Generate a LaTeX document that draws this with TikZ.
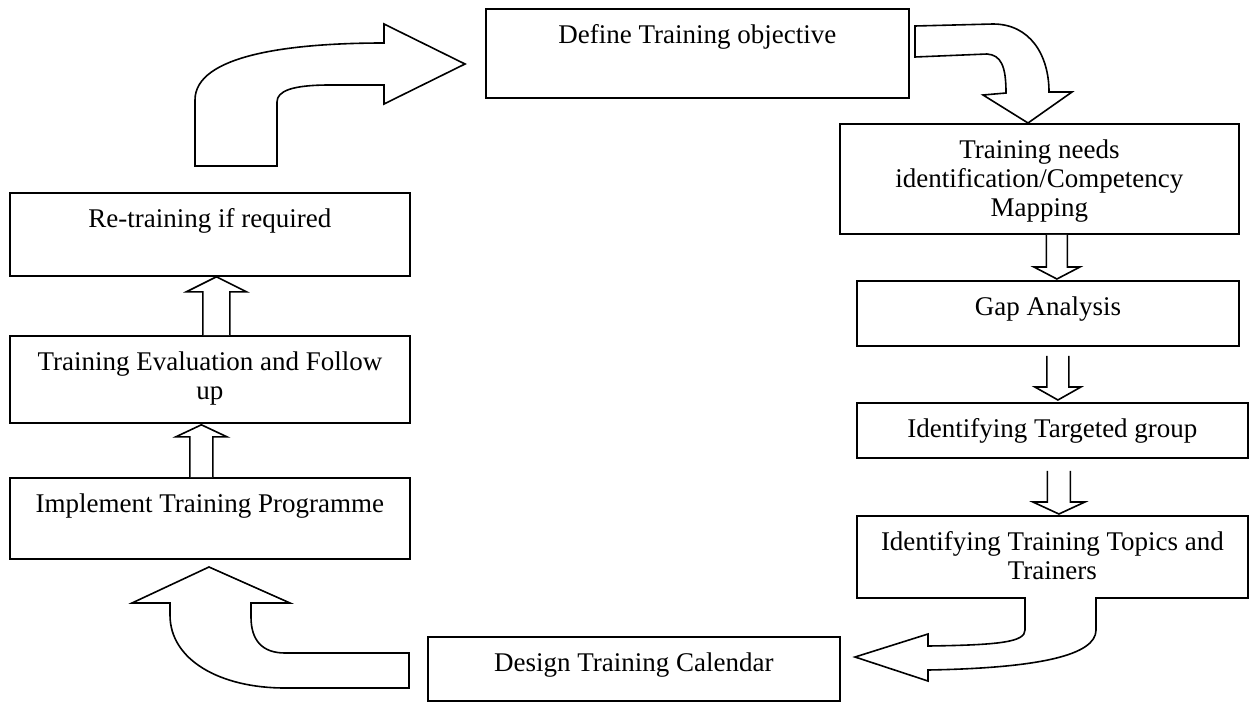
\documentclass[tikz,border=0pt]{standalone}
\usepackage{fontspec}
\setmainfont{Liberation Serif}
\usetikzlibrary{calc}
\newcommand\boxtext[3]{\parbox[t][#2][t]{#1}{\centering\rule{0pt}{35pt}#3}}
\newcommand\vblock[5]{\draw[blk] let \p1=#1, \p2=#2 in
  ({\x2-#3},{\y1}) -- ({\x2-#3},{\y2+(#5)}) -- ({\x2-#4},{\y2+(#5)}) -- ({\x2},{\y2})
  -- ({\x2+#4},{\y2+(#5)}) -- ({\x2+#3},{\y2+(#5)}) -- ({\x2+#3},{\y1});}
\begin{document}
\begin{tikzpicture}[x=1pt,y=-1pt,
  font=\fontsize{27}{28.8}\selectfont,
  box/.style={draw, line width=1.8pt, inner sep=0pt, anchor=north west},
  blk/.style={draw, line width=1.6pt, fill=white, line join=miter}]
\useasboundingbox (0,0) rectangle (1249,701);

% boxes
\node[box] (def) at (485,8) {\boxtext{423pt}{89pt}{Define Training objective}};
\node[box] (tni) at (839,123) {\boxtext{399pt}{110pt}{Training needs\\identification/Competency\\Mapping}};
\node[box] (gap) at (856,280) {\boxtext{382pt}{65pt}{Gap Analysis}};
\node[box] (tgt) at (856,402) {\boxtext{391pt}{55pt}{Identifying Targeted group}};
\node[box] (topics) at (856,515) {\boxtext{391pt}{82pt}{Identifying Training Topics and\\Trainers}};
\node[box] (cal) at (427,636) {\boxtext{412pt}{64pt}{Design Training Calendar}};
\node[box] (impl) at (9,477) {\boxtext{400pt}{81pt}{Implement Training Programme}};
\node[box] (eval) at (9,335) {\boxtext{400pt}{87pt}{Training Evaluation and Follow\\up}};
\node[box] (ret) at (9,192) {\boxtext{400pt}{83pt}{Re-training if required}};

% straight block arrows
\vblock{(tni.south)}{($(gap.north)+(9,-1)$)}{10.5}{23}{12}
\vblock{($(gap.south)+(0,9)$)}{($(tgt.north)+(5.5,-2)$)}{11}{23}{13}
\vblock{($(tgt.south)+(0,12)$)}{($(topics.north)+(6.5,-1)$)}{11.5}{26}{12}
\vblock{(impl.north)}{($(eval.south)+(-8.5,1)$)}{11.5}{25.5}{-12}
\vblock{(eval.north)}{($(ret.south)+(6.5,0)$)}{13.5}{30}{-15}

% curved block arrows
% retraining -> define objective
\draw[blk] (195,166) -- (195,100) .. controls (195,55) and (290,43) .. (384,43)
  -- (384,24) -- (465,64) -- (384,104) -- (384,85) -- (330,85)
  .. controls (292,85) and (277,91) .. (277,102) -- (277,166) -- cycle;
% define objective -> training needs
\draw[blk] (915,26) -- (993,24) .. controls (1030,24) and (1049,55) .. (1049,92)
  -- (1072,92) -- (1028,123) -- (983,95) -- (1006,93)
  .. controls (1006,66) and (1001,55) .. (987,54) -- (915,57) -- cycle;
% topics -> calendar
\draw[blk] (1025,597) -- (1025,630) .. controls (1025,642) and (1000,645) .. (928,646)
  -- (928,634) -- (855,657) -- (928,681) -- (928,670)
  .. controls (1040,668) and (1096,655) .. (1096,630) -- (1096,597);
% calendar -> implement
\draw[blk] (409,653) -- (285,653) .. controls (262,653) and (251,640) .. (251,617)
  -- (251,603) -- (290,603) -- (209,567) -- (132,603) -- (170,603) -- (170,615)
  .. controls (170,660) and (220,688) .. (285,688) -- (409,688) -- cycle;
\end{tikzpicture}
\end{document}
